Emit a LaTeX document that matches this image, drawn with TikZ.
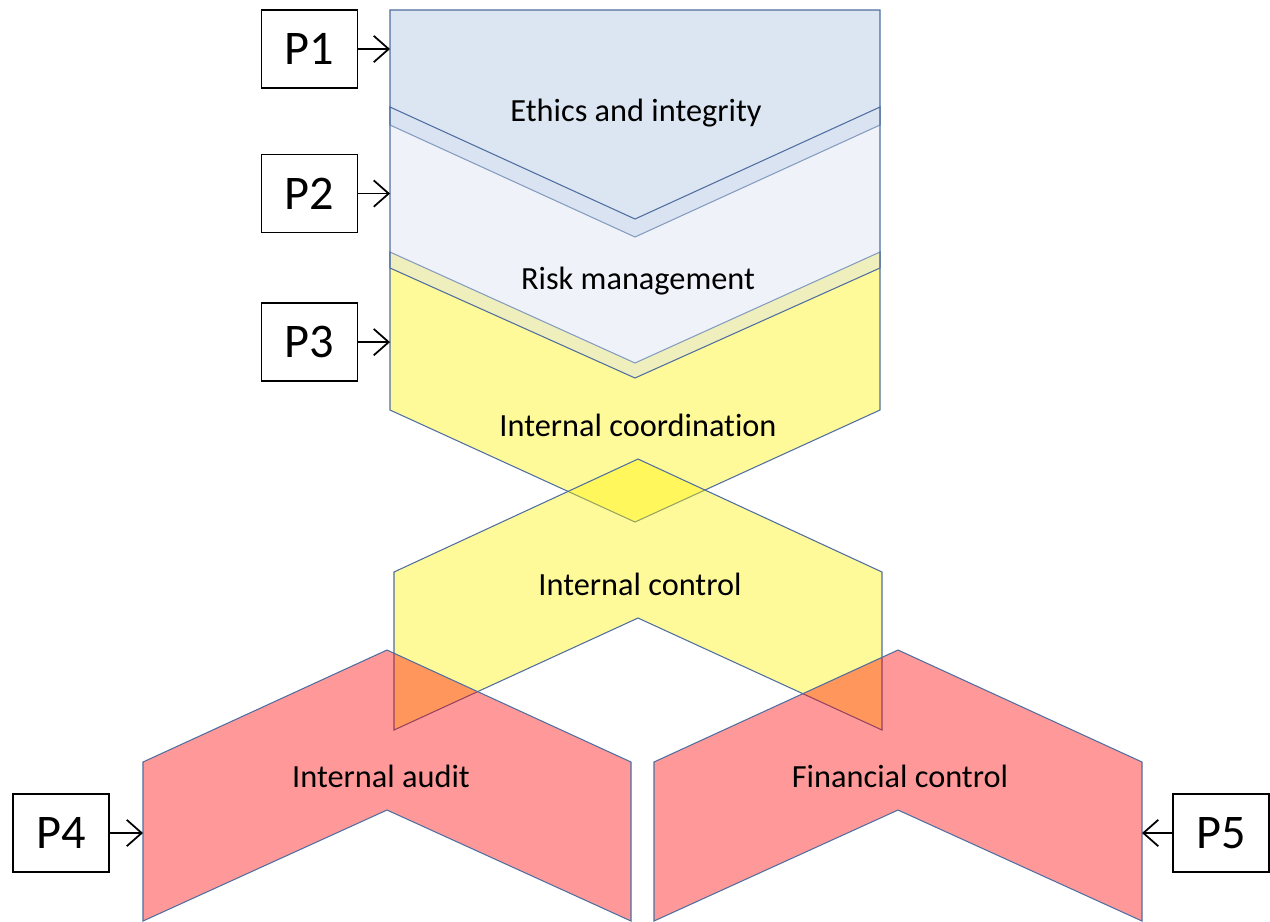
\documentclass[tikz,border=0pt]{standalone}
\usepackage{fontspec}
\setmainfont[Ligatures=NoCommon]{Carlito}
\usetikzlibrary{positioning}
\usetikzlibrary{arrows.meta}
\definecolor{edgeblue}{RGB}{79,110,160}
\definecolor{ethicsblue}{RGB}{220,230,242}
\definecolor{riskblue}{RGB}{214,224,240}
\tikzset{p arrow/.style={-{Straight Barb[length=8.5pt, width=15pt, line width=1pt]}, line width=1pt}}
\tikzset{band/.style={draw=edgeblue, line width=0.6pt, line join=miter}}
\tikzstyle{pbox} = [draw, line width=0.9pt, minimum width=1.92cm, minimum height=1.56cm, inner sep=0pt, font=\fontsize{27.5}{30}\selectfont]
\tikzstyle{bandlabel} = [inner sep=0pt, font=\fontsize{18.4}{22}\selectfont]

\begin{document}
\begin{tikzpicture}[x=0.02cm, y=-0.02cm]
  \useasboundingbox (0,0) rectangle (1270,921);

  % chevrons, top to bottom
  \path[band, fill=ethicsblue] (390,10) -- (880,10) -- (880,125) -- (635,237) -- (390,125) -- cycle;
  \path[band, fill=yellow, fill opacity=0.4] (390,252) -- (635,363) -- (880,252) -- (880,410) -- (635,522) -- (390,410) -- cycle;
  \path[band, fill=riskblue, fill opacity=0.4] (390,107) -- (635,219) -- (880,107) -- (880,268) -- (635,378) -- (390,268) -- cycle;
  \path[band, fill=yellow, fill opacity=0.4] (394,572) -- (638,459) -- (882,572) -- (882,730) -- (638,618) -- (394,730) -- cycle;
  \path[band, fill=red, fill opacity=0.4] (143,762) -- (387,650) -- (631,762) -- (631,921) -- (387,810) -- (143,921) -- cycle;
  \path[band, fill=red, fill opacity=0.4] (654,762) -- (898,650) -- (1142,762) -- (1142,921) -- (898,810) -- (654,921) -- cycle;

  \node [bandlabel] (ethics)   at (636,113) {Ethics and integrity};
  \node [bandlabel] (risk)     at (638,281) {Risk management};
  \node [bandlabel] (coord)    at (638,425) {Internal coordination};
  \node [bandlabel] (control)  at (640,584) {Internal control};
  \node [bandlabel] (audit)    at (381,776) {Internal audit};
  \node [bandlabel] (finance)  at (900,776) {Financial control};

  \coordinate (topleft)   at (390,0);
  \coordinate (auditleft) at (143,0);
  \coordinate (finright)  at (1142,0);

  \node [pbox] (p1) at (309.5,49) {P1};
  \node [pbox, below=1.3cm of p1] (p2) {P2};
  \node [pbox, below=1.38cm of p2] (p3) {P3};
  \node [pbox] (p4) at (61,833) {P4};
  \node [pbox] (p5) at (1221,833) {P5};

  \draw [p arrow] (p1.east) -- (p1.east -| topleft);
  \draw [p arrow] (p2.east) -- (p2.east -| topleft);
  \draw [p arrow] (p3.east) -- (p3.east -| topleft);
  \draw [p arrow] (p4.east) -- (p4.east -| auditleft);
  \draw [p arrow] (p5.west) -- (p5.west -| finright);
\end{tikzpicture}
\end{document}
